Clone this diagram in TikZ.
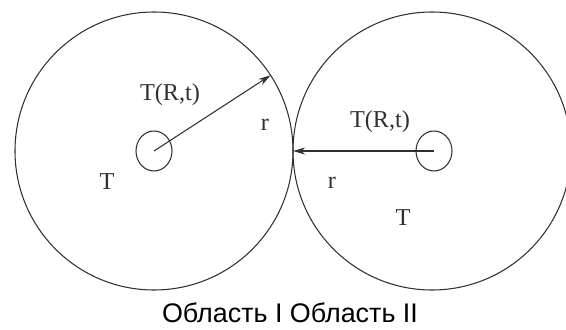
\documentclass[tikz,border=0pt]{standalone}
\usepackage{fontspec}
\setmainfont{Liberation Serif}
\newfontfamily\capfont{Liberation Sans}
\usepackage{tikz}
\usetikzlibrary{arrows.meta, shapes.geometric}
\definecolor{ink}{HTML}{303030}

\begin{document}
\begin{tikzpicture}[region/.style={draw=ink, circle, line width=0.6pt, outer sep=0pt, minimum size=5.56cm},
core/.style={draw=ink, ellipse, line width=0.6pt, outer sep=0pt, minimum width=0.72cm, minimum height=0.8cm},
flux/.style={draw=ink, line width=0.6pt, -{Stealth[length=7pt, width=4pt]}},
lbl/.style={font=\fontsize{13.8}{16}\selectfont, text=ink, inner sep=0pt}]
\useasboundingbox (0,0) rectangle (11.32,6.58);
% two regions in contact
\node[region] (lc) at (3.08,3.56) {};
\node[region] (rc) at (8.64,3.56) {};
\node[core] (lk) at (3.08,3.56) {};
\node[core] (rk) at (8.68,3.56) {};
\coordinate (lt) at (lc.33);
\coordinate (rt) at (lc.east);
\draw[flux] (lk.center) -- (lt);
\draw[flux] (rk.center) -- (rt);
% labels
\node[lbl] (lT1) at (3.40,4.68) {T(R,t)};
\node[lbl] (lr) at (5.30,4.08) {r};
\node[lbl] (lT) at (2.14,2.94) {T};
\node[lbl] (rT1) at (7.60,4.14) {T(R,t)};
\node[lbl] (rr) at (6.64,2.92) {r};
\node[lbl] (rT) at (8.06,2.22) {T};
\node[font=\capfont\fontsize{15.3}{18}\selectfont, inner sep=0pt] (cap) at (5.80,0.32) {Область I Область II};
\end{tikzpicture}
\end{document}
